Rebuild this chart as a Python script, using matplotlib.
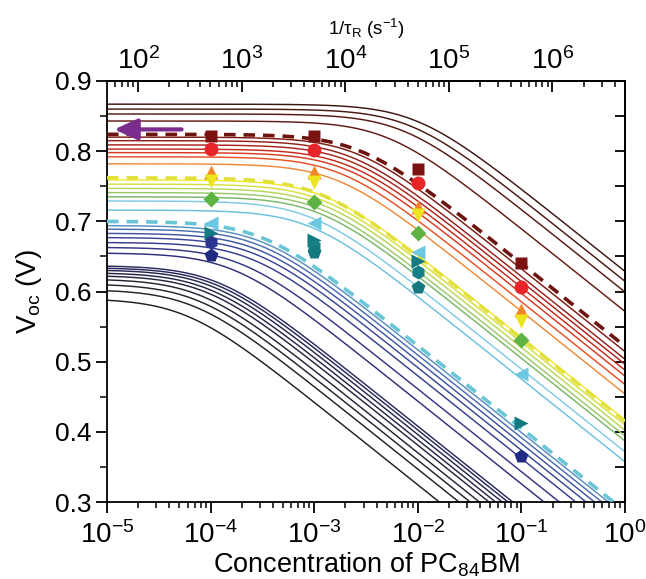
import numpy as np
import matplotlib
matplotlib.use("Agg")
import matplotlib.pyplot as plt
from matplotlib.ticker import (LogLocator, FixedLocator, MultipleLocator,
                               NullFormatter, LogFormatterSciNotation)

plt.rcParams['font.family'] = ['Liberation Sans', 'DejaVu Sans']
plt.rcParams['mathtext.fontset'] = 'custom'
plt.rcParams['mathtext.rm'] = 'Liberation Sans'
plt.rcParams['mathtext.it'] = 'Liberation Sans:italic'
plt.rcParams['mathtext.bf'] = 'Liberation Sans:bold'

# ---------------- data ----------------
# model curves: plateau Voc (V) and knee concentration (log10)
curve_v0 = [0.867, 0.860, 0.853, 0.843, 0.824, 0.820, 0.815, 0.809, 0.803, 0.798,
            0.792, 0.782, 0.762, 0.759, 0.753, 0.747, 0.741, 0.735, 0.729, 0.716,
            0.700, 0.694, 0.689, 0.683, 0.677, 0.670, 0.663, 0.655, 0.637, 0.634,
            0.631, 0.627, 0.623, 0.618, 0.611, 0.603, 0.590]
curve_logc0 = [-2.02, -2.08, -2.15, -2.30, -2.56, -2.59, -2.64, -2.65, -2.67, -2.70,
               -2.75, -2.78, -2.94, -2.90, -2.91, -2.92, -2.94, -2.95, -3.03, -3.04,
               -3.50, -3.50, -3.52, -3.54, -3.57, -3.61, -3.71, -3.79, -3.94, -3.96,
               -3.99, -4.02, -4.05, -4.10, -4.13, -4.17, -4.25]
curve_dashed = [4, 12, 20]
curve_colors = ['#3b1712', '#4a1812', '#561912', '#621a12', '#6e1410', '#7d1a12',
                '#93201a', '#aa2418', '#c42a1c', '#d83a20', '#e65022', '#f08a3a',
                '#e2e03a', '#f2e82a', '#d6e03c', '#b8d658', '#98c86a', '#78b86a',
                '#7ccbe6', '#6cc0e0', '#6ac6d6', '#5a8fc0', '#4a6db0', '#3f55a3',
                '#3a4798', '#363d8e', '#333583', '#2e2f76', '#2a2a60', '#28285a',
                '#272752', '#26264a', '#252540', '#242436', '#23232e', '#222228',
                '#202020']
SLOPE = 0.118   # V per decade at high concentration
SHARP = 1.5

# measured points
conc = [1e-4, 1e-3, 1e-2, 1e-1]
nan = np.nan
pts_square = [0.822, 0.822, 0.774, 0.640]
pts_circle = [0.803, 0.801, 0.754, 0.606]
pts_tri_up = [0.770, 0.770, 0.721, 0.573]
pts_tri_down = [0.757, 0.756, 0.709, 0.558]
pts_diamond = [0.732, 0.728, 0.683, 0.531]
pts_tri_left = [0.698, 0.698, 0.656, 0.483]
pts_tri_right = [0.684, 0.674, 0.644, 0.413]
pts_hex_teal = [nan, 0.665, 0.628, nan]
pts_pent_teal = [nan, 0.656, 0.606, nan]
pts_hex_navy = [0.670, nan, nan, nan]
pts_pent_navy = [0.652, nan, nan, 0.366]

TOP_FACTOR = 10 ** 6.7  # 1/tau_R per unit concentration
top_ticks = [1e2, 1e3, 1e4, 1e5, 1e6]

# ---------------- figure ----------------
fig = plt.figure(figsize=(6.46, 5.79), dpi=100)
ax = fig.add_axes([107 / 646, 77 / 579, 518 / 646, 421 / 579])
ax.set_xscale('log')
ax.set_xlim(1e-5, 1)
ax.set_ylim(0.3, 0.9)

c = np.logspace(-5, 0, 500)
for i, (v0, lc0, col) in enumerate(zip(curve_v0, curve_logc0, curve_colors)):
    v = v0 - SLOPE / SHARP * np.log10(1 + (c / 10 ** lc0) ** SHARP)
    if i in curve_dashed:
        ax.plot(c, v, color=col, lw=2.6, ls=(0, (3.2, 2.2)), zorder=3)
    else:
        ax.plot(c, v, color=col, lw=1.05, zorder=2)

mk = dict(ls='none', zorder=4, mec='none')
ax.plot(conc, pts_square, marker='s', ms=9, color='#7a1212', **mk)
ax.plot(conc, pts_circle, marker='o', ms=10, color='#e8262a', **mk)
ax.plot(conc, pts_tri_up, marker='^', ms=10, color='#f2842a', **mk)
ax.plot(conc, pts_tri_down, marker='v', ms=10, color='#ece41e', **mk)
ax.plot(conc, pts_diamond, marker='D', ms=8, color='#5db445', **mk)
ax.plot(conc, pts_tri_left, marker='<', ms=10, color='#6cc8e0', **mk)
ax.plot(conc, pts_tri_right, marker='>', ms=10, color='#127a80', **mk)
ax.plot(conc, pts_hex_teal, marker='h', ms=10, color='#147f86', **mk)
ax.plot(conc, pts_pent_teal, marker='p', ms=10, color='#147880', **mk)
ax.plot(conc, pts_hex_navy, marker='h', ms=10, color='#283690', **mk)
ax.plot(conc, pts_pent_navy, marker='p', ms=10, color='#1f2a80', **mk)

# purple arrow
ax.annotate('', xy=(10 ** -4.93, 0.831), xytext=(10 ** -4.28, 0.831),
            arrowprops=dict(arrowstyle='-|>,head_length=0.7,head_width=0.32',
                            lw=3, color='#7b2d8e', mutation_scale=20,
                            shrinkA=0, shrinkB=0), zorder=5)

# axes styling
for s in ax.spines.values():
    s.set_linewidth(1.3)
ax.xaxis.set_major_locator(LogLocator(base=10, numticks=10))
ax.xaxis.set_minor_locator(LogLocator(base=10, subs=np.arange(2, 10), numticks=20))
ax.xaxis.set_minor_formatter(NullFormatter())
ax.yaxis.set_major_locator(MultipleLocator(0.1))
ax.yaxis.set_minor_locator(MultipleLocator(0.05))
ax.yaxis.set_major_formatter(plt.FuncFormatter(lambda v, p: f"{v:.1f}"))
ax.tick_params(axis='x', which='major', direction='out', length=8, width=1.3,
               labelsize=20, pad=6, top=False)
ax.tick_params(axis='x', which='minor', direction='out', length=4, width=1.1, top=False)
ax.tick_params(axis='y', which='major', direction='out', length=8, width=1.3,
               labelsize=19, pad=3, right=False)
ax.tick_params(axis='y', which='minor', direction='out', length=5, width=1.1, right=False)

# right axis (ticks inward)
ry = ax.secondary_yaxis('right')
ry.yaxis.set_major_locator(MultipleLocator(0.05))
ry.yaxis.set_minor_locator(plt.NullLocator())
ry.tick_params(axis='y', direction='in', length=7, width=1.3, labelright=False)
ry.spines['right'].set_linewidth(1.3)

# top axis
top = ax.secondary_xaxis('top', functions=(lambda x: x * TOP_FACTOR,
                                            lambda x: x / TOP_FACTOR))
top.set_xscale('log')
top.xaxis.set_major_locator(FixedLocator(top_ticks))
top.xaxis.set_minor_locator(LogLocator(base=10, subs=np.arange(2, 10), numticks=30))
top.xaxis.set_major_formatter(LogFormatterSciNotation())
top.xaxis.set_minor_formatter(NullFormatter())
top.tick_params(axis='x', which='major', direction='in', length=8, width=1.3,
                labelsize=20, pad=4)
top.tick_params(axis='x', which='minor', direction='in', length=4, width=1.1)
top.spines['top'].set_linewidth(1.3)
top.set_xlabel(r'1/τ$_\mathregular{R}$ (s$^\mathregular{-1}$)', fontsize=13.5, labelpad=9)

ax.set_xlabel(r'Concentration of PC$_\mathregular{84}$BM', fontsize=19.5, labelpad=1)
ax.set_ylabel(r'V$_\mathregular{oc}$ (V)', fontsize=20, labelpad=8)

fig.savefig('out.png', dpi=100)
